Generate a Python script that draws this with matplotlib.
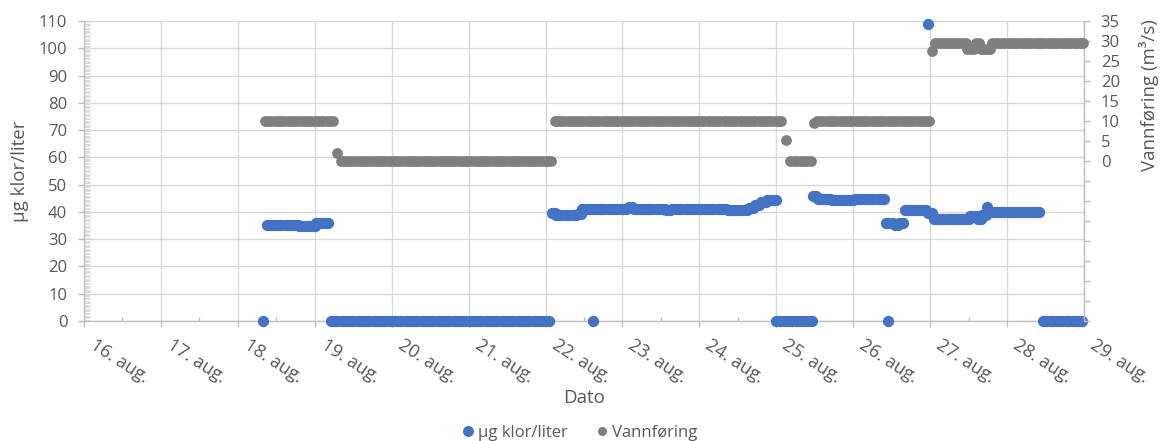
import numpy as np
import matplotlib
matplotlib.use("Agg")
import matplotlib.pyplot as plt
from matplotlib.lines import Line2D
from matplotlib.ticker import MultipleLocator

plt.rcParams['font.family'] = ['Open Sans', 'DejaVu Sans']

# ---- data: runs of (start day-of-August, end day-of-August, value), hourly readings ----
klor_start = [18.33, 18.38, 18.80, 19.02, 19.21, 22.08, 22.13, 22.42, 22.48, 23.08, 23.15, 23.57,
              23.64, 24.37, 24.64, 24.72, 24.80, 24.88, 22.62, 25.00, 25.48, 25.54, 25.72, 26.02,
              26.45, 26.42, 26.54, 26.60, 26.67, 26.97, 26.97, 27.05, 27.52, 27.62, 27.68, 27.74,
              27.78, 28.47]
klor_end = [18.33, 18.78, 19.00, 19.17, 22.04, 22.12, 22.40, 22.46, 23.05, 23.12, 23.55, 23.62,
            24.35, 24.62, 24.70, 24.78, 24.86, 25.00, 22.62, 25.46, 25.52, 25.70, 26.00, 26.40,
            26.45, 26.52, 26.58, 26.65, 26.95, 26.97, 27.03, 27.50, 27.60, 27.66, 27.72, 27.76,
            28.42, 28.97]
klor_value = [0, 35.3, 34.9, 35.9, 0, 39.5, 38.7, 39.3, 41.1, 41.8, 41.1, 40.6,
              41.0, 40.8, 41.3, 42.5, 43.5, 44.5, 0, 0, 45.8, 44.8, 44.3, 44.6,
              0, 35.8, 35.3, 35.8, 40.8, 109, 39.6, 37.3, 38.6, 37.5, 39.0, 41.8,
              40.0, 0]

vann_start = [18.35, 19.29, 19.34, 22.12, 25.13, 25.18, 25.49, 25.53, 27.02, 27.06, 27.48,
              27.60, 27.66, 27.81]
vann_end = [19.24, 19.29, 22.07, 25.06, 25.13, 25.45, 25.49, 26.99, 27.02, 27.46, 27.57,
            27.63, 27.78, 28.99]
vann_value = [10, 2, 0, 10, 5.3, 0, 9.5, 10, 27.6, 29.5, 28.0, 29.6, 28.0, 29.5]

x_tick_days = [16, 17, 18, 19, 20, 21, 22, 23, 24, 25, 26, 27, 28, 29]
x_tick_labels = ["16. aug.", "17. aug.", "18. aug.", "19. aug.", "20. aug.", "21. aug.",
                 "22. aug.", "23. aug.", "24. aug.", "25. aug.", "26. aug.", "27. aug.",
                 "28. aug.", "29. aug."]
left_ticks = [0, 10, 20, 30, 40, 50, 60, 70, 80, 90, 100, 110]
right_ticks = [-40, -35, -30, -25, -20, -15, -10, -5, 0, 5, 10, 15, 20, 25, 30, 35]
right_tick_labels = ["", "", "", "", "", "", "", "", "0", "5", "10", "15", "20", "25", "30", "35"]


def expand(starts, ends, values):
    xs, ys = [], []
    for s, e, v in zip(starts, ends, values):
        n = int(round((e - s) * 24)) + 1
        xs.extend(np.linspace(s, e, n))
        ys.extend([v] * n)
    return np.array(xs), np.array(ys)


kx, ky = expand(klor_start, klor_end, klor_value)
vx, vy = expand(vann_start, vann_end, vann_value)

BLUE = '#4472C4'
GRAY = '#7F7F7F'
TXT = '#595959'
AXC = '#BFBFBF'
GRID = '#D9D9D9'

W, H = 1160, 441
fig = plt.figure(figsize=(W / 100, H / 100), dpi=100)
ax = fig.add_axes([84 / W, 1 - 321 / H, 1000 / W, 300 / H])

ax.set_xlim(16, 29)
ax.set_ylim(0, 110)
ax.scatter(kx, ky, s=66, color=BLUE, linewidths=0, zorder=3, clip_on=False)

ax.set_xticks(x_tick_days)
ax.set_xticklabels(x_tick_labels, rotation=-33, ha='left', va='top', rotation_mode='default')
ax.xaxis.set_minor_locator(MultipleLocator(0.5))
ax.set_yticks(left_ticks)
ax.yaxis.set_minor_locator(MultipleLocator(0.5))

ax.grid(True, which='major', color=GRID, linewidth=1.0, zorder=0)
ax.set_axisbelow(True)

for s in ['top', 'right']:
    ax.spines[s].set_visible(False)
for s in ['left', 'bottom']:
    ax.spines[s].set_color(AXC)
    ax.spines[s].set_linewidth(1.0)

ax.tick_params(axis='x', which='major', direction='out', length=4, width=1.0, color=AXC,
               labelsize=13, labelcolor=TXT, pad=7)
ax.tick_params(axis='x', which='minor', direction='in', length=3, width=1.0, color=AXC)
ax.tick_params(axis='y', which='major', direction='out', length=4, width=1.0, color=AXC,
               labelsize=12, labelcolor=TXT, pad=8)
ax.tick_params(axis='y', which='minor', direction='in', length=4, width=0.5, color='#D0D0D0')

# shift x tick labels slightly right, matching the reference
import matplotlib.transforms as mtransforms
offset = mtransforms.ScaledTranslation(3 / 100, 0, fig.dpi_scale_trans)
for lbl in ax.get_xticklabels():
    lbl.set_transform(lbl.get_transform() + offset)

ax.set_ylabel('µg klor/liter', fontsize=13.5, color=TXT)
ax.yaxis.label.set_va('center')
ax.yaxis.set_label_coords((20 - 84) / 1000, 0.5)
ax.set_xlabel('Dato', fontsize=13.5, color=TXT)
ax.xaxis.label.set_va('center')
ax.xaxis.set_label_coords(0.5, (321 - 398) / 300)

ax2 = ax.twinx()
ax2.set_ylim(-40, 35)
ax2.scatter(vx, vy, s=60, color=GRAY, linewidths=0, zorder=3, clip_on=False)
ax2.set_yticks(right_ticks)
ax2.set_yticklabels(right_tick_labels)
for s in ['top', 'left', 'bottom']:
    ax2.spines[s].set_visible(False)
ax2.spines['right'].set_color(AXC)
ax2.spines['right'].set_linewidth(1.0)
ax2.tick_params(axis='y', which='major', direction='out', length=4, width=1.0, color=AXC,
                labelsize=12, labelcolor=TXT, pad=8)
ax2.set_ylabel('Vannføring (m³/s)', fontsize=13.5, color=TXT)
ax2.yaxis.label.set_va('center')
ax2.yaxis.set_label_coords((1149 - 84) / 1000, (321 - 95) / 300)

handles = [Line2D([], [], linestyle='none', marker='o', markersize=7.9, color=BLUE, markeredgewidth=0),
           Line2D([], [], linestyle='none', marker='o', markersize=6.5, color=GRAY, markeredgewidth=0)]
fig.legend(handles, ['µg klor/liter', 'Vannføring'], loc='center',
           bbox_to_anchor=(578.5 / W, 1 - 433 / H), ncol=2, frameon=False, fontsize=12,
           labelcolor=TXT, handletextpad=0.1, columnspacing=1.6, handlelength=1.0)

fig.savefig('out.png', dpi=100)
